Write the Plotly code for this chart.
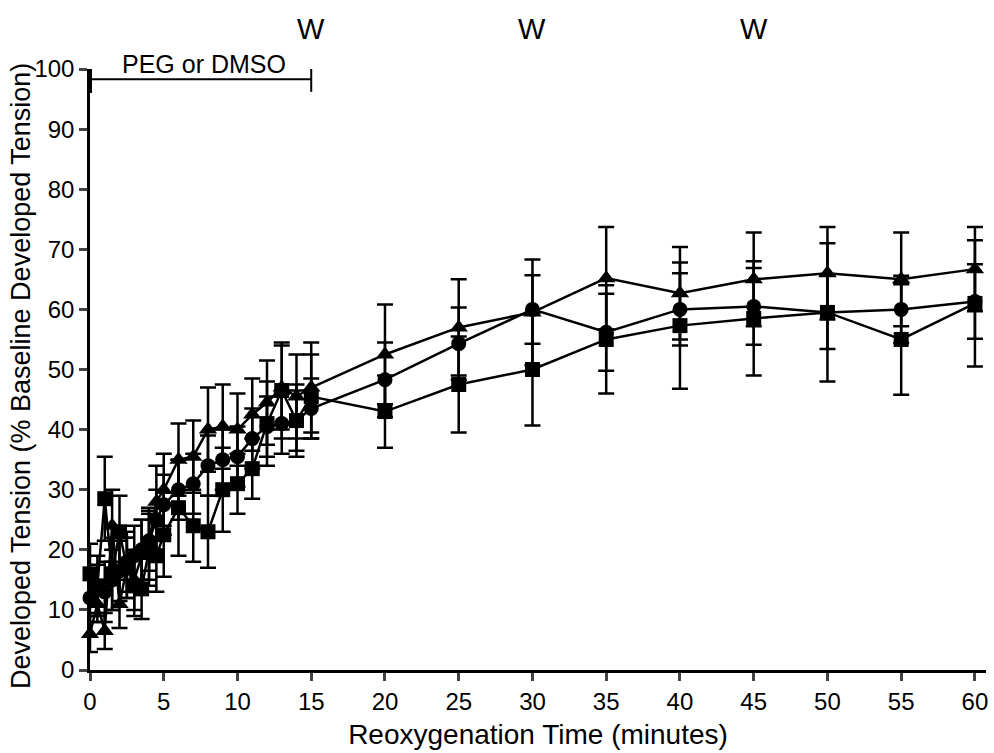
import plotly.graph_objects as go

time = [0, 0.5, 1, 1.5, 2, 2.5, 3, 3.5, 4, 4.5, 5, 6, 7, 8, 9, 10, 11, 12, 13, 14, 15,
        20, 25, 30, 35, 40, 45, 50, 55, 60]

square_mean = [16, 14, 28.5, 16, 23, 17, 14, 13.5, 20, 19, 22.5, 27, 24, 23, 30, 31, 33.5, 41, 46.5, 41.5, 45.5,
               43, 47.5, 50, 55, 57.3, 58.5, 59.5, 55, 61]
square_err = [5, 5, 7, 6, 6, 5, 5, 5, 6, 6, 7, 8, 6, 6, 7, 5, 5, 7, 8, 6, 7,
              6, 8, 9.3, 9, 10.5, 9.5, 11.5, 9.2, 10.5]

circle_mean = [12, 13.5, 13, 15, 16.5, 18, 19, 20, 21.5, 25, 27.5, 30, 31, 34, 35, 35.5, 38.5, 40.5, 41, 41.5, 43.5,
               48.3, 54.3, 60, 56.2, 60, 60.5, 59.5, 60, 61.3]
circle_err = [4, 4, 5, 5, 5, 5, 5, 5, 5, 5, 5, 5, 5, 5, 5, 5, 5, 5, 5, 5, 5,
              6.2, 6, 5.7, 6.4, 6, 6.4, 6.1, 5.6, 6.2]

triangle_mean = [6, 11, 6.5, 24, 11, 17, 15, 19, 21, 28, 30, 35, 35.5, 40, 40.5, 40, 42.5, 44.5, 47, 45.5, 47,
                 52.5, 57, 59.5, 65.2, 62.7, 65, 66, 65, 66.7]
triangle_err = [3, 3, 3, 6, 4, 5, 5, 6, 6, 6, 6, 6, 6, 7, 7, 6, 6, 7, 7, 7, 7.5,
                8.3, 8, 8.8, 8.5, 7.7, 7.8, 7.7, 7.8, 7]

x_ticks = [0, 5, 10, 15, 20, 25, 30, 35, 40, 45, 50, 55, 60]
y_ticks = [0, 10, 20, 30, 40, 50, 60, 70, 80, 90, 100]
w_marks = [15, 30, 45]

FONT = "Liberation Sans, Arial, sans-serif"

fig = go.Figure()

def add_series(y, err, symbol, size):
    fig.add_trace(go.Scatter(
        x=time, y=y, mode="lines+markers",
        line=dict(color="black", width=2.5),
        marker=dict(symbol=symbol, size=size, color="black"),
        error_y=dict(type="data", array=err, visible=True, color="black", thickness=2.5, width=8),
        cliponaxis=False, showlegend=False,
    ))

add_series(square_mean, square_err, "square", 15)
add_series(circle_mean, circle_err, "circle", 15)
add_series(triangle_mean, triangle_err, "triangle-up", 16)

# PEG or DMSO bracket
fig.add_shape(type="line", x0=0, x1=15, y0=98.3, y1=98.3, xref="x", yref="y",
              line=dict(color="black", width=2))
fig.add_shape(type="line", x0=15, x1=15, y0=96.2, y1=100.3, xref="x", yref="y",
              line=dict(color="black", width=2))
fig.add_shape(type="line", x0=0, x1=0, y0=96.0, y1=100.3, xref="x", yref="y",
              line=dict(color="black", width=4))
fig.add_annotation(x=7.7, y=98.2, xref="x", yref="y", text="PEG or DMSO", showarrow=False,
                   yanchor="bottom", font=dict(family=FONT, size=25, color="black"))

for w in w_marks:
    fig.add_annotation(x=w, y=1.037, xref="x", yref="paper", text="W", showarrow=False,
                       yanchor="bottom", font=dict(family=FONT, size=29, color="black"))

# y-axis title placed as a rotated annotation so it can sit exactly where the reference has it
fig.add_annotation(x=-0.077, y=0.489, xref="paper", yref="paper",
                   text="Developed Tension (% Baseline Developed Tension)",
                   textangle=-90, showarrow=False, xanchor="center", yanchor="middle",
                   font=dict(family=FONT, size=27, color="black"))

fig.update_layout(
    width=994, height=753,
    paper_bgcolor="white", plot_bgcolor="white",
    margin=dict(l=90, r=8, t=69, b=83),
    font=dict(family=FONT, size=24, color="black"),
    xaxis=dict(range=[0, 60.75], tickvals=x_ticks, ticks="outside", ticklen=8, tickwidth=2.5,
               showline=True, linecolor="black", linewidth=2.5, showgrid=False, zeroline=False,
               tickfont=dict(size=24), automargin=False, ticklabeloverflow="allow",
               title=dict(text="Reoxygenation Time (minutes)", font=dict(size=28), standoff=11)),
    yaxis=dict(range=[0, 100], tickvals=y_ticks, ticks="outside", ticklen=8, tickwidth=2.5,
               showline=True, linecolor="black", linewidth=2.5, showgrid=False, zeroline=False,
               tickfont=dict(size=24), automargin=False),
)

# remove the default 8px page margin so the figure fills the 994x753 window exactly
fig.write_html("out.html",
               config={"displayModeBar": False},
               post_script="document.body.style.margin='0';document.body.style.overflow='hidden';")
